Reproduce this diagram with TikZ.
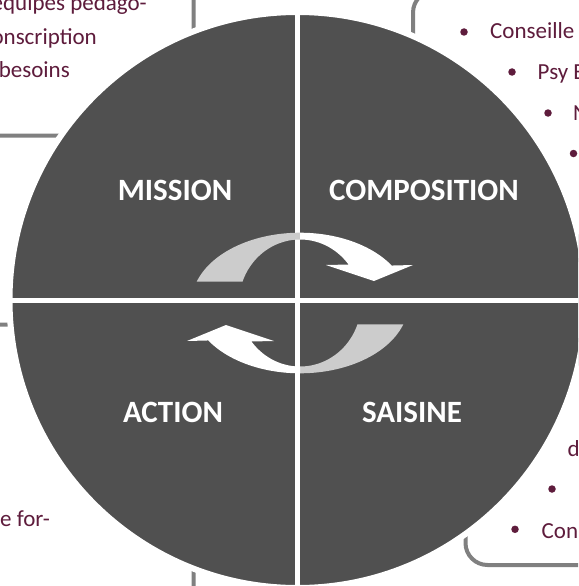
\documentclass[tikz,border=0pt]{standalone}
\usepackage{fontspec}
\setmainfont{Carlito}
\definecolor{darkq}{RGB}{80,80,80}
\definecolor{boxline}{RGB}{128,128,128}
\definecolor{txtc}{RGB}{94,28,60}
\definecolor{arrowgrey}{RGB}{204,204,204}
\newcommand\drawCycArrow{%
  \fill[arrowgrey] plot[domain=270:197.6,samples=50] ({300+108.4*cos(\x)},{303+70.3*sin(\x)})
     -- plot[domain=199.6:270,samples=50] ({300+61*cos(\x)},{303+63.5*sin(\x)}) -- cycle;
  \fill[white] plot[domain=270:327.8,samples=50] ({300+108.4*cos(\x)},{303+70.3*sin(\x)})
     -- (413,265) -- (374,281) -- (326,265)
     -- plot[domain=322.7:270,samples=50] ({300+61*cos(\x)},{303+63.5*sin(\x)}) -- cycle;
}
\begin{document}
\begin{tikzpicture}[x=1pt,y=-1pt,
  boxframe/.style={draw=boxline, line width=4pt, fill=white, rounded corners=22pt},
  qlabel/.style={text=white, font=\fontsize{31}{31}\selectfont\bfseries, inner sep=0pt, anchor=base},
  body/.style={text=txtc, font=\fontsize{23}{23}\selectfont, inner sep=0pt},
  bul/.style={circle, fill=txtc, inner sep=0pt, minimum size=7.5pt}]
\useasboundingbox (0,0) rectangle (578,586);
\fill[white] (0,0) rectangle (578,586);
\clip (0,0) rectangle (578,586);
% text boxes behind the circle
\draw[boxframe] (-60,-60) rectangle (193.5,135.5);
\draw[boxframe] (413,-9.4) rectangle (660,260);
\draw[boxframe] (-60,324.5) rectangle (193.5,660);
\draw[boxframe] (465.5,340) rectangle (660,565);
% texts
\node[body, anchor=base east] (tl1) at (147,10.5) {équipes pédago-};
\node[body, anchor=base east] (tl2) at (97,44.5) {onscription};
\node[body, anchor=base east] (tl3) at (70,77.5) {besoins};
\node[body, anchor=base east] (bl1) at (50,526) {e for-};
\node[bul] (b1) at (464,32) {};
\node[body, anchor=base west] (tr1) at (490,39) {Conseille};
\node[bul] (b2) at (512,72) {};
\node[body, anchor=base west] (tr2) at (537.5,79.5) {Psy E};
\node[bul] (b3) at (548,113) {};
\node[body, anchor=base west] (tr3) at (573,120) {N};
\node[bul] (b4) at (573.5,153.5) {};
\node[body, anchor=base west] (br1) at (567.5,456) {d};
\node[bul] (b5) at (552,489) {};
\node[bul] (b6) at (515,529.3) {};
\node[body, anchor=base west] (br2) at (541.5,538) {Con};
% circle with quadrants
\filldraw[fill=darkq, draw=white, line width=6pt] (297.5,300) circle[radius=288];
\draw[white, line width=5pt] (297.5,8) -- (297.5,592);
\draw[white, line width=5pt] (5,300) -- (590,300);
% cycle arrows
\drawCycArrow
\begin{scope}[rotate around={180:(300,303)}]
\drawCycArrow
\end{scope}
% quadrant labels
\node[qlabel] (mission) at (175,200) {MISSION};
\node[qlabel] (composition) at (424,200) {COMPOSITION};
\node[qlabel] (action) at (173,422) {ACTION};
\node[qlabel] (saisine) at (412,422) {SAISINE};
\end{tikzpicture}
\end{document}
